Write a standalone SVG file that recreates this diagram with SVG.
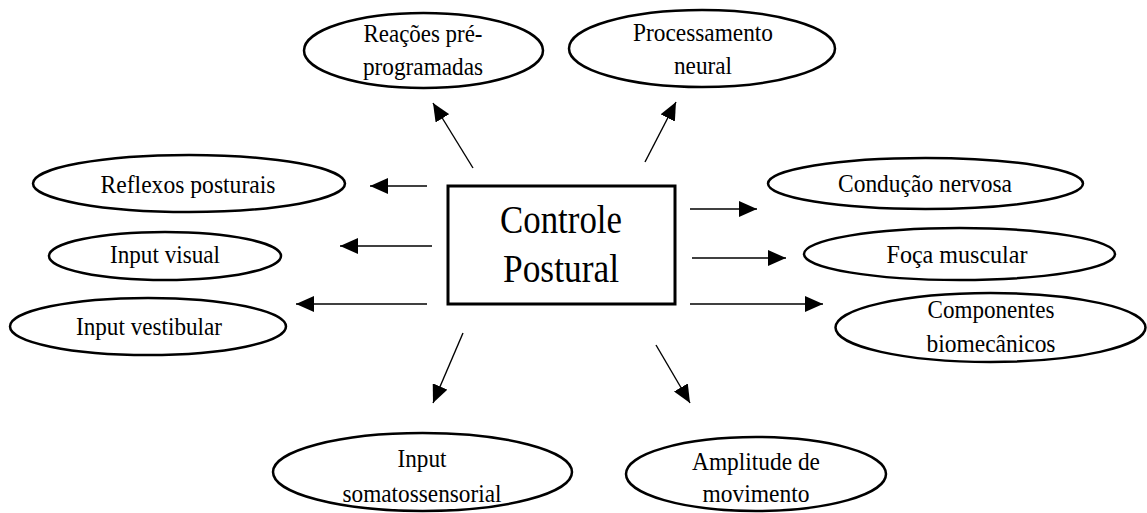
<svg xmlns="http://www.w3.org/2000/svg" width="1147" height="513" viewBox="0 0 1147 513">
<style>
.n{fill:#fff;stroke:#000;stroke-width:2.5}
.t{font-family:"Liberation Serif","Times New Roman",serif;font-size:26px;fill:#000;text-anchor:middle}
.big{font-size:39px}
.c{stroke:#000;stroke-width:1.4;fill:none;marker-end:url(#ah)}
</style>
<defs>
<marker id="ah" markerUnits="userSpaceOnUse" markerWidth="18" markerHeight="16" refX="18" refY="8" orient="auto">
<path d="M0,0 L18,8 L0,16 z" fill="#000"/>
</marker>
</defs>
<rect width="1147" height="513" fill="#fff"/>
<g id="connectors">
<line class="c" x1="473" y1="168" x2="433" y2="103"/>
<line class="c" x1="645" y1="162" x2="676" y2="102"/>
<line class="c" x1="427" y1="186" x2="370" y2="186"/>
<line class="c" x1="432" y1="246" x2="340" y2="246"/>
<line class="c" x1="427" y1="304" x2="296" y2="304"/>
<line class="c" x1="690" y1="209" x2="757" y2="209"/>
<line class="c" x1="692" y1="258" x2="786" y2="258"/>
<line class="c" x1="690" y1="304" x2="823" y2="304"/>
<line class="c" x1="463" y1="333" x2="433" y2="403"/>
<line class="c" x1="656" y1="345" x2="690" y2="403"/>
</g>
<g id="controle-postural">
<rect x="448" y="186" width="227" height="118" fill="#fff" stroke="#000" stroke-width="3"/>
<text class="t big" x="561" y="233" textLength="122" lengthAdjust="spacingAndGlyphs">Controle</text>
<text class="t big" x="561" y="282" textLength="116" lengthAdjust="spacingAndGlyphs">Postural</text>
</g>
<g id="reacoes">
<ellipse class="n" cx="423.5" cy="50.5" rx="119.5" ry="37.5"/>
<text class="t" x="423" y="42" textLength="119" lengthAdjust="spacingAndGlyphs">Reações pré-</text>
<text class="t" x="423" y="75" textLength="120" lengthAdjust="spacingAndGlyphs">programadas</text>
</g>
<g id="processamento">
<ellipse class="n" cx="702" cy="48.5" rx="133" ry="38.5"/>
<text class="t" x="703" y="41" textLength="140" lengthAdjust="spacingAndGlyphs">Processamento</text>
<text class="t" x="703" y="74" textLength="58" lengthAdjust="spacingAndGlyphs">neural</text>
</g>
<g id="reflexos">
<ellipse class="n" cx="189" cy="183.5" rx="156" ry="28.5"/>
<text class="t" x="188" y="193" textLength="175" lengthAdjust="spacingAndGlyphs">Reflexos posturais</text>
</g>
<g id="input-visual">
<ellipse class="n" cx="165" cy="256" rx="116" ry="24"/>
<text class="t" x="165" y="263" textLength="110" lengthAdjust="spacingAndGlyphs">Input visual</text>
</g>
<g id="input-vestibular">
<ellipse class="n" cx="148" cy="326.5" rx="138" ry="28.5"/>
<text class="t" x="149" y="335" textLength="146" lengthAdjust="spacingAndGlyphs">Input vestibular</text>
</g>
<g id="conducao">
<ellipse class="n" cx="925.5" cy="183.5" rx="157.5" ry="25.5"/>
<text class="t" x="925" y="192" textLength="174" lengthAdjust="spacingAndGlyphs">Condução nervosa</text>
</g>
<g id="forca">
<ellipse class="n" cx="959.5" cy="254" rx="155.5" ry="26"/>
<text class="t" x="957" y="263" textLength="141" lengthAdjust="spacingAndGlyphs">Foça muscular</text>
</g>
<g id="componentes">
<ellipse class="n" cx="990.5" cy="327.5" rx="155" ry="34.5"/>
<text class="t" x="991" y="318" textLength="127" lengthAdjust="spacingAndGlyphs">Componentes</text>
<text class="t" x="991" y="352" textLength="129" lengthAdjust="spacingAndGlyphs">biomecânicos</text>
</g>
<g id="somatossensorial">
<ellipse class="n" cx="422.5" cy="472" rx="149.5" ry="39"/>
<text class="t" x="422" y="467" textLength="49" lengthAdjust="spacingAndGlyphs">Input</text>
<text class="t" x="422" y="502" textLength="159" lengthAdjust="spacingAndGlyphs">somatossensorial</text>
</g>
<g id="amplitude">
<ellipse class="n" cx="756" cy="474" rx="130" ry="37"/>
<text class="t" x="756" y="470" textLength="128" lengthAdjust="spacingAndGlyphs">Amplitude de</text>
<text class="t" x="756" y="502" textLength="107" lengthAdjust="spacingAndGlyphs">movimento</text>
</g>
</svg>
